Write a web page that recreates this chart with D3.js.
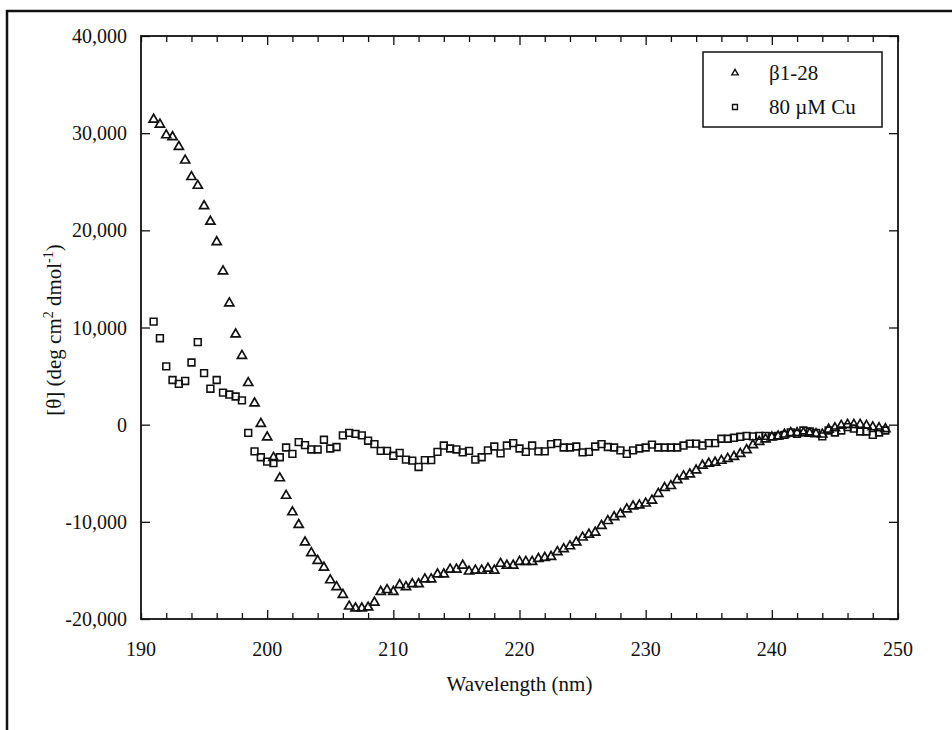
<!DOCTYPE html>
<html lang="en">
<head>
<meta charset="UTF-8">
<title>CD spectrum</title>
<script src="https://d3js.org/d3.v7.min.js"></script>
<style>
    body { margin: 0; background: #fff; }
    svg { display: block; }
    text { font-family: "Liberation Serif", "DejaVu Serif", serif; fill: #111; }
</style>
</head>
<body>
<svg id="chart" width="952" height="730"></svg>
<script>
// wavelength grid of the scan (nm), one point every 0.5 nm
const wavelengths = d3.range(191, 249.01, 0.5);

// beta1-28 alone (triangles), deg cm2 dmol-1
const peptide = [
    31400, 30900, 29800, 29600, 28600, 27200, 25500, 24600, 22500, 20900,
    18800, 15800, 12500, 9300, 7100, 4300, 2200, 100,
    -1300, -3400, -5500, -7300, -9000, -10300, -12100, -13200, -14000, -14700,
    -16000, -16700, -17500, -18700, -18900, -18900, -18800, -18300, -17200, -17000,
    -17200, -16500, -16700, -16400, -16400, -15900, -15900, -15400, -15400, -14900,
    -14900, -14500, -15100, -15000, -15000, -14800, -15000, -14300, -14500, -14500,
    -14100, -14100, -14100, -13800, -13700, -13600, -13100, -12800, -12500, -12100,
    -11600, -11300, -11100, -10400, -9900, -9500, -9200, -8700, -8400, -8300,
    -8100, -7800, -7100, -6500, -6300, -5700, -5300, -5100, -4700, -4200,
    -4000, -3900, -3700, -3500, -3300, -3000, -2600, -2100, -1750, -1500,
    -1300, -1200, -1000, -850, -850, -850, -900, -950, -1000, -500,
    -350, -100, 0, 0, 0, -100, -250, -350, -450
];

// with 80 uM Cu (squares)
const copper = [
    10600, 8900, 6000, 4600, 4200, 4500, 6400, 8500, 5300, 3700,
    4600, 3300, 3100, 2900, 2500, -850, -2750, -3350,
    -3800, -3950, -3350, -2350, -3000, -1800, -2100, -2550, -2550, -1550,
    -2450, -2300, -1100, -850, -950, -1100, -1650, -2000, -2700, -2700,
    -3200, -2900, -3600, -3700, -4350, -3650, -3650, -2800, -2150, -2450,
    -2550, -2850, -2700, -3600, -3350, -2650, -2250, -2950, -2150, -1900,
    -2450, -2800, -2150, -2750, -2750, -2000, -1900, -2350, -2350, -2250,
    -2850, -2800, -2250, -2000, -2300, -2350, -2650, -3000, -2650, -2450,
    -2350, -2050, -2350, -2350, -2350, -2350, -2150, -1950, -1950, -2150,
    -1900, -1900, -1450, -1450, -1350, -1250, -1150, -1200, -1150, -1150,
    -1200, -1150, -1050, -800, -950, -600, -700, -850, -1200, -600,
    -800, -600, -250, -400, -700, -700, -1050, -800, -600
];

const xTicks = [190, 200, 210, 220, 230, 240, 250];
const yTicks = [-20000, -10000, 0, 10000, 20000, 30000, 40000];
const seriesNames = ["\u03B21-28", "80 \u00B5M Cu"];

const svg = d3.select("#chart");
const margin = { left: 141, top: 36, right: 54, bottom: 111 };
const width = 952 - margin.left - margin.right;
const height = 730 - margin.top - margin.bottom;

// outer frame of the figure (only top and left edges show)
svg.append("path")
    .attr("d", "M7,730 L7,11 L952,11")
    .attr("fill", "none")
    .attr("stroke", "#111")
    .attr("stroke-width", 2.5);

const g = svg.append("g").attr("transform", `translate(${margin.left},${margin.top})`);

const x = d3.scaleLinear().domain([190, 250]).range([0, width]);
const y = d3.scaleLinear().domain([-20000, 40000]).range([height, 0]);

// plain hyphen for negatives, like the original figure
const fmt = d => d3.format(",")(d).replace("\u2212", "-");

// ticks every 2 nm on bottom and top, pointing inward
const minorX = d3.range(190, 250.01, 2);
const bottomAxis = d3.axisBottom(x).tickValues(minorX).tickSizeInner(-6).tickSizeOuter(0).tickFormat("");
const topAxis = d3.axisTop(x).tickValues(minorX).tickSizeInner(-6).tickSizeOuter(0).tickFormat("");
const leftAxis = d3.axisLeft(y).tickValues(yTicks).tickSizeInner(-9).tickSizeOuter(0).tickFormat("");
const rightAxis = d3.axisRight(y).tickValues(yTicks).tickSizeInner(-9).tickSizeOuter(0).tickFormat("");

g.append("g").attr("transform", `translate(0,${height})`).call(bottomAxis);
g.append("g").call(topAxis);
g.append("g").call(leftAxis);
g.append("g").attr("transform", `translate(${width},0)`).call(rightAxis);

g.selectAll(".domain").remove();
g.selectAll(".tick line").attr("stroke", "#111").attr("stroke-width", 1.3);

// slightly longer tick at the 10 nm marks
g.selectAll(".tick line")
    .filter(d => xTicks.includes(d) && d > 190 && d < 250)
    .attr("y2", function() { return +d3.select(this).attr("y2") * 1.5; });

// plot box
g.append("rect")
    .attr("width", width)
    .attr("height", height)
    .attr("fill", "none")
    .attr("stroke", "#111")
    .attr("stroke-width", 1.8);

// tick labels
g.selectAll(".xlab")
    .data(xTicks)
    .enter().append("text")
    .attr("x", d => x(d))
    .attr("y", height + 37)
    .attr("text-anchor", "middle")
    .attr("font-size", 20)
    .text(d => d);

g.selectAll(".ylab")
    .data(yTicks)
    .enter().append("text")
    .attr("x", -14)
    .attr("y", d => y(d))
    .attr("dy", "0.35em")
    .attr("text-anchor", "end")
    .attr("font-size", 20)
    .text(d => fmt(d));

// axis titles
g.append("text")
    .attr("x", width / 2)
    .attr("y", height + 72)
    .attr("text-anchor", "middle")
    .attr("font-size", 21)
    .text("Wavelength (nm)");

const ytitle = svg.append("text")
    .attr("transform", "translate(61,330) rotate(-90)")
    .attr("text-anchor", "middle")
    .attr("font-size", 21);
ytitle.append("tspan").text("[\u03B8] (deg cm");
ytitle.append("tspan").attr("font-size", 14).attr("dy", -8).text("2");
ytitle.append("tspan").attr("dy", 8).text(" dmol");
ytitle.append("tspan").attr("font-size", 14).attr("dy", -8).text("-1");
ytitle.append("tspan").attr("dy", 8).text(")");

// markers
const tri = d3.symbol().type(d3.symbolTriangle).size(36);
const sq = d3.symbol().type(d3.symbolSquare).size(46);

const peptidePts = wavelengths.map((w, i) => ({ w, v: peptide[i] }));
const copperPts = wavelengths.map((w, i) => ({ w, v: copper[i] }));

g.append("g").selectAll("path")
    .data(copperPts)
    .enter().append("path")
    .attr("d", sq)
    .attr("transform", d => `translate(${x(d.w)},${y(d.v)})`)
    .attr("fill", "none")
    .attr("stroke", "#111")
    .attr("stroke-width", 1.6);

g.append("g").selectAll("path")
    .data(peptidePts)
    .enter().append("path")
    .attr("d", tri)
    .attr("transform", d => `translate(${x(d.w)},${y(d.v)})`)
    .attr("fill", "none")
    .attr("stroke", "#111")
    .attr("stroke-width", 1.7);

// legend
const legend = svg.append("g").attr("transform", "translate(703,52)");
legend.append("rect")
    .attr("width", 179)
    .attr("height", 75)
    .attr("fill", "#fff")
    .attr("stroke", "#111")
    .attr("stroke-width", 1.5);

const legendSyms = [d3.symbol().type(d3.symbolTriangle).size(18), d3.symbol().type(d3.symbolSquare).size(24)];
seriesNames.forEach((name, i) => {
    const row = legend.append("g").attr("transform", `translate(0,${20 + i * 34})`);
    row.append("path")
        .attr("d", legendSyms[i])
        .attr("transform", "translate(32,1)")
        .attr("fill", "none")
        .attr("stroke", "#111")
        .attr("stroke-width", 1.4);
    row.append("text")
        .attr("x", 66)
        .attr("y", 8)
        .attr("font-size", 21)
        .text(name);
});
</script>
</body>
</html>
